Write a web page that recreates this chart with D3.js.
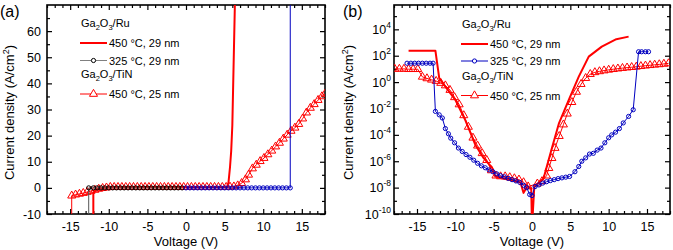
<!DOCTYPE html>
<html>
<head>
<meta charset="utf-8">
<script src="https://cdn.jsdelivr.net/npm/d3@7"></script>
<style>
body { margin: 0; background: #fff; }
text { font-family: "Liberation Sans", Arial, sans-serif; fill: #000; }
</style>
</head>
<body>
<script>
// DATA - panel (a), linear J-V
var ru450A = [[-12.0, -80], [-12.0, -2.0], [-11.7, -0.9], [-11.3, -0.3], [-10.5, 0.1], [-5, 0.2], [0, 0.2],
  [5.3, 0.3], [5.5, 2], [5.7, 8], [5.85, 14], [6.0, 24], [6.4, 80]];

var ru325negA = [[-12.6, -80], [-12.6, 0], [-12.0, 0], [-11.5, 0], [-11.0, 0], [-10.5, 0], [-10.0, 0], [-9.5, 0],
  [-9.0, 0], [-8.5, 0], [-8.0, 0], [-7.5, 0], [-7.0, 0], [-6.5, 0], [-6.0, 0], [-5.5, 0], [-5.0, 0],
  [-4.5, 0], [-4.0, 0], [-3.5, 0], [-3.0, 0], [-2.5, 0], [-2.0, 0], [-1.5, 0], [-1.0, 0], [-0.5, 0]];

var ru325posA = [[0, 0], [0.5, 0], [1.0, 0], [1.5, 0], [2.0, 0], [2.5, 0], [3.0, 0], [3.5, 0], [4.0, 0], [4.5, 0],
  [5.0, 0], [5.5, 0], [6.0, 0], [6.5, 0], [7.0, 0], [7.5, 0], [8.0, 0], [8.5, 0], [9.0, 0], [9.5, 0],
  [10.0, 0], [10.5, 0], [11.0, 0], [11.5, 0], [12.0, 0], [12.5, 0], [13.0, 0], [13.5, 0], [13.5, 90]];

var tin450A = [[-14.8, -80], [-14.8, -3.0], [-14.3, -2.6], [-13.8, -2.3], [-13.3, -2.0], [-12.8, -1.6], [-12.3, -1.2],
  [-11.8, -0.8], [-11.3, -0.4], [-10.8, -0.1], [-10.3, 0.1], [-9.8, 0.3], [-9.3, 0.3], [-8.8, 0.3], [-8.3, 0.3],
  [-7.8, 0.3], [-7.3, 0.3], [-6.8, 0.3], [-6.3, 0.3], [-5.8, 0.3], [-5.3, 0.3], [-4.8, 0.3], [-4.3, 0.3],
  [-3.8, 0.3], [-3.3, 0.3], [-2.8, 0.3], [-2.3, 0.3], [-1.8, 0.3], [-1.3, 0.3], [-0.8, 0.3], [-0.3, 0.3],
  [0.2, 0.3], [0.7, 0.3], [1.2, 0.3], [1.7, 0.3], [2.2, 0.3], [2.7, 0.3], [3.2, 0.3], [3.7, 0.3], [4.2, 0.3],
  [4.7, 0.3], [5.2, 0.3], [5.7, 0.4], [6.2, 0.5], [6.7, 0.9], [7.2, 1.8], [7.7, 3.2], [8.1, 5.0], [8.6, 7.4],
  [9.1, 8.8], [9.6, 10.2], [10.1, 11.4], [10.6, 12.8], [11.1, 14.2], [11.6, 15.8], [12.1, 17.2], [12.6, 18.8],
  [13.1, 20.3], [13.6, 21.8], [14.1, 23.0], [14.6, 24.4], [15.1, 26.5], [15.6, 28.8], [16.1, 30.6],
  [16.6, 32.0], [17.1, 33.6], [17.6, 35.0], [18.0, 36.0]];

// DATA - panel (b), log |J|-V
var ru450B = [[-16.1, 2.4e2], [-12.6, 2.4e2], [-12.1, 2.0], [-11.3, 4.6e-1], [-10.0, 4.5e-2], [-8.7, 1.3e-3],
  [-7.4, 1.8e-5], [-6.3, 1.7e-6], [-5.2, 3.2e-7], [-4.8, 7e-8], [-3.0, 4e-8], [-1.5, 2.5e-8], [-1.1, 4e-9],
  [-0.6, 1.3e-8], [-0.1, 8e-9], [0.0, 1e-11], [0.3, 1.2e-8], [1.5, 5e-8], [2.6, 1e-5], [3.5, 7e-4],
  [4.8, 4.5e-2], [6.1, 2.6], [7.4, 8.5e1], [9.1, 4.9e2], [11.0, 1.8e3], [12.6, 2.8e3]];

var ru325B = [[-16.3, 27], [-15.8, 27], [-15.3, 27], [-14.8, 27], [-14.3, 27], [-13.8, 27], [-13.3, 27], [-12.9, 27],
  [-12.6, 6e-3], [-12.1, 3.3e-3], [-11.7, 1.9e-3], [-11.3, 3e-4], [-10.9, 1.2e-4], [-10.6, 5.6e-5],
  [-10.1, 2.5e-5], [-9.6, 1e-5], [-9.1, 5.5e-6], [-8.6, 3.2e-6], [-8.1, 2e-6], [-7.6, 1.2e-6], [-7.1, 7e-7],
  [-6.6, 4.5e-7], [-6.1, 3.2e-7], [-5.6, 2.2e-7], [-5.1, 1.6e-7], [-4.6, 1.1e-7], [-4.1, 8e-8], [-3.6, 6.5e-8],
  [-3.1, 5e-8], [-2.6, 4e-8], [-2.1, 3.2e-8], [-1.6, 2.5e-8], [-1.1, 1.5e-8], [-0.7, 1e-8], [-0.3, 3e-9],
  [0.0, 2.5e-9], [0.4, 1.2e-8], [0.9, 1.6e-8], [1.4, 2.2e-8], [1.9, 2.8e-8], [2.4, 3.4e-8], [2.9, 4e-8],
  [3.4, 4.8e-8], [3.9, 5.5e-8], [4.4, 6.2e-8], [4.9, 7e-8], [5.6, 1.6e-7], [6.1, 4e-7], [6.5, 1e-6],
  [7.0, 1.8e-6], [7.5, 3.5e-6], [8.0, 4e-6], [8.5, 7e-6], [9.0, 1e-5], [9.5, 2.5e-5], [10.0, 6e-5],
  [10.4, 1e-4], [10.9, 1.6e-4], [11.4, 3e-4], [11.9, 8e-4], [12.6, 2.5e-3], [13.2, 8e-3],
  [13.9, 2e2], [14.3, 2e2], [14.8, 2e2], [15.2, 2e2]];

var tin450B = [[-17.9, 10], [-17.3, 10], [-16.7, 10], [-16.1, 9.5], [-15.5, 9.5], [-14.9, 9.5], [-14.3, 2.5],
  [-13.7, 1.9], [-13.1, 1.5], [-12.5, 1.2], [-11.9, 0.85], [-11.3, 0.55], [-10.7, 0.25], [-10.1, 0.07],
  [-9.5, 0.02], [-8.9, 3e-3], [-8.3, 4e-4], [-7.7, 6e-5], [-7.1, 1.5e-5], [-6.5, 4e-6], [-5.9, 1.2e-6],
  [-5.3, 2e-7], [-4.7, 8e-8], [-4.1, 7e-8], [-3.5, 7e-8], [-2.9, 6e-8], [-2.3, 5e-8], [-1.7, 4e-8],
  [-1.1, 2.5e-8], [-0.5, 1.2e-8], [0.7, 2e-8], [1.3, 3e-8], [1.9, 8e-8], [2.2, 3e-7], [2.6, 1.7e-6],
  [3.0, 1e-5], [3.55, 8e-5], [4.1, 6e-4], [4.6, 4e-3], [5.2, 3e-2], [5.8, 1.8e-1], [6.4, 7e-1], [7.0, 2],
  [7.6, 4], [8.2, 5.5], [8.8, 6.5], [9.4, 7.5], [10.0, 8.5], [10.6, 9.5], [11.2, 10.5], [11.8, 11.5],
  [12.4, 12.5], [13.0, 13.5], [13.6, 14.5], [14.2, 16], [14.8, 17.5], [15.4, 19], [16.0, 20.5],
  [16.6, 22], [17.2, 24], [17.8, 26]];

var xMajor = [-15, -10, -5, 0, 5, 10, 15];
var yMajorA = [-10, 0, 10, 20, 30, 40, 50, 60];
var yMajorB = [1e-10, 1e-8, 1e-6, 1e-4, 1e-2, 1e0, 1e2, 1e4];

var RED = "#ff0000";
var BLUE = "#0000c0";

// SVG WRAPPER
var svg = d3.select("body").append("svg")
  .attr("width", 673)
  .attr("height", 250);

var defs = svg.append("defs");

function gaText(sel, suffix) {
  sel.append("tspan").text("Ga");
  sel.append("tspan").attr("dy", 3).attr("font-size", "7.5px").text("2");
  sel.append("tspan").attr("dy", -3).text("O");
  sel.append("tspan").attr("dy", 3).attr("font-size", "7.5px").text("3");
  sel.append("tspan").attr("dy", -3).text("/" + suffix);
}

function frame(x, y, id, logY) {
  var g = svg.append("g");
  var x0 = x.range()[0], x1 = x.range()[1], y0 = y.range()[0], y1 = y.range()[1];
  var xMinor = d3.range(-18, 19, 1).filter(function (d) { return d % 5 !== 0; });

  g.append("g").attr("transform", "translate(0," + y0 + ")")
    .call(d3.axisBottom(x).tickValues(xMajor).tickSize(-5).tickPadding(8).tickFormat(function (d) { return String(d); }))
    .call(function (a) { a.select(".domain").remove(); a.selectAll("text").attr("font-size", "12.5px"); });
  g.append("g").attr("transform", "translate(0," + y0 + ")")
    .call(d3.axisBottom(x).tickValues(xMinor).tickSize(-3).tickFormat(""))
    .call(function (a) { a.select(".domain").remove(); });
  g.append("g").attr("transform", "translate(0," + y1 + ")")
    .call(d3.axisTop(x).tickValues(xMajor).tickSize(-5).tickFormat(""))
    .call(function (a) { a.select(".domain").remove(); });
  g.append("g").attr("transform", "translate(0," + y1 + ")")
    .call(d3.axisTop(x).tickValues(xMinor).tickSize(-3).tickFormat(""))
    .call(function (a) { a.select(".domain").remove(); });

  var yMajor, yMinor;
  if (logY) {
    yMajor = yMajorB;
    yMinor = [1e-9, 1e-7, 1e-5, 1e-3, 1e-1, 1e1, 1e3, 1e5];
  } else {
    yMajor = yMajorA;
    yMinor = [-5, 5, 15, 25, 35, 45, 55, 65];
  }
  var left = g.append("g").attr("transform", "translate(" + x0 + ",0)")
    .call(d3.axisLeft(y).tickValues(yMajor).tickSize(-5).tickPadding(logY ? 3 : 6)
      .tickFormat(logY ? "" : function (d) { return String(d); }))
    .call(function (a) { a.select(".domain").remove(); a.selectAll("text").attr("font-size", "12.5px"); });
  if (logY) {
    left.selectAll(".tick text").each(function (d) {
      var t = d3.select(this).attr("font-size", "12.5px");
      t.append("tspan").text("10");
      t.append("tspan").attr("dy", -6).attr("font-size", "8.5px").text(String(Math.round(Math.log10(d))));
    });
  }
  g.append("g").attr("transform", "translate(" + x0 + ",0)")
    .call(d3.axisLeft(y).tickValues(yMinor).tickSize(-3).tickFormat(""))
    .call(function (a) { a.select(".domain").remove(); });
  g.append("g").attr("transform", "translate(" + x1 + ",0)")
    .call(d3.axisRight(y).tickValues(yMajor).tickSize(-5).tickFormat(""))
    .call(function (a) { a.select(".domain").remove(); });
  g.append("g").attr("transform", "translate(" + x1 + ",0)")
    .call(d3.axisRight(y).tickValues(yMinor).tickSize(-3).tickFormat(""))
    .call(function (a) { a.select(".domain").remove(); });

  g.selectAll(".tick line").attr("stroke", "#000").attr("stroke-width", 1.2);

  g.append("rect")
    .attr("x", x0).attr("y", y1).attr("width", x1 - x0).attr("height", y0 - y1)
    .attr("fill", "none").attr("stroke", "#000").attr("stroke-width", 1.6);

  defs.append("clipPath").attr("id", id)
    .append("rect").attr("x", x0).attr("y", y1).attr("width", x1 - x0).attr("height", y0 - y1);

  // axis titles
  svg.append("text")
    .attr("x", (x0 + x1) / 2).attr("y", 246)
    .attr("text-anchor", "middle").attr("font-size", "13px")
    .text("Voltage (V)");
  var yt = svg.append("text")
    .attr("transform", "translate(" + (x0 - (logY ? 41 : 33)) + "," + ((y0 + y1) / 2 + 3) + ") rotate(-90)")
    .attr("text-anchor", "middle").attr("font-size", "13px");
  yt.append("tspan").text("Current density (A/cm");
  yt.append("tspan").attr("dy", -5).attr("font-size", "9px").text("2");
  yt.append("tspan").attr("dy", 5).text(")");
}

function plotSeries(x, y, id, data, opts) {
  var g = svg.append("g").attr("clip-path", "url(#" + id + ")");
  var line = d3.line().x(function (d) { return x(d[0]); }).y(function (d) { return y(d[1]); });
  g.append("path").datum(data)
    .attr("d", line)
    .attr("fill", "none")
    .attr("stroke", opts.lineColor)
    .attr("stroke-width", opts.width)
    .attr("stroke-linejoin", "round");
  if (opts.marker === "circle") {
    g.selectAll("circle").data(data.filter(function (d) { return opts.markAll || d[1] > -50 && d[1] < 80; }))
      .enter().append("circle")
      .attr("cx", function (d) { return x(d[0]); })
      .attr("cy", function (d) { return y(d[1]); })
      .attr("r", 2.1)
      .attr("fill", "none")
      .attr("stroke", opts.markColor)
      .attr("stroke-width", 1);
  } else if (opts.marker === "triangle") {
    var sym = d3.symbol(d3.symbolTriangle, 28);
    g.selectAll(".tri").data(data.filter(function (d) { return opts.markAll || d[1] > -50 && d[1] < 80; }))
      .enter().append("path")
      .attr("class", "tri")
      .attr("d", sym)
      .attr("transform", function (d) { return "translate(" + x(d[0]) + "," + y(d[1]) + ")"; })
      .attr("fill", "none")
      .attr("stroke", opts.markColor)
      .attr("stroke-width", 1);
  }
}

function legend(lx, rows, panelB) {
  var g = svg.append("g").attr("font-size", "11px");
  g.append("text").attr("x", lx + 1).attr("y", rows[0]).attr("font-size", "11px").call(gaText, "Ru");
  var items = [
    {y: rows[1], color: RED, w: 2, marker: null, label: "450 \u00B0C, 29 nm"},
    {y: rows[2], color: panelB ? BLUE : "#808080", w: 1, marker: "circle", mc: panelB ? BLUE : "#000", label: "325 \u00B0C, 29 nm"},
    {y: rows[4], color: RED, w: 1, marker: "triangle", mc: RED, label: "450 \u00B0C, 25 nm"}
  ];
  g.append("text").attr("x", lx + 1).attr("y", rows[3]).attr("font-size", "11px").call(gaText, "TiN");
  items.forEach(function (it) {
    g.append("line").attr("x1", lx).attr("x2", lx + 27).attr("y1", it.y - 4).attr("y2", it.y - 4)
      .attr("stroke", it.color).attr("stroke-width", it.w);
    if (it.marker === "circle") {
      g.append("circle").attr("cx", lx + 13.5).attr("cy", it.y - 4).attr("r", 2.1)
        .attr("fill", "#fff").attr("stroke", it.mc).attr("stroke-width", 1);
    } else if (it.marker === "triangle") {
      g.append("path").attr("d", d3.symbol(d3.symbolTriangle, 28))
        .attr("transform", "translate(" + (lx + 13.5) + "," + (it.y - 4) + ")")
        .attr("fill", "#fff").attr("stroke", it.mc).attr("stroke-width", 1);
    }
    g.append("text").attr("x", lx + 29).attr("y", it.y).text(it.label);
  });
}

// PANEL (a)
var xA = d3.scaleLinear().domain([-18, 18]).range([47, 325]);
var yA = d3.scaleLinear().domain([-10, 70]).range([214, 5]);
frame(xA, yA, "clipA", false);
plotSeries(xA, yA, "clipA", ru450A, {lineColor: RED, width: 2});
plotSeries(xA, yA, "clipA", tin450A, {lineColor: RED, width: 1, marker: "triangle", markColor: RED});
plotSeries(xA, yA, "clipA", ru325negA, {lineColor: "#555", width: 1, marker: "circle", markColor: "#000"});
plotSeries(xA, yA, "clipA", ru325posA, {lineColor: BLUE, width: 1, marker: "circle", markColor: BLUE});
legend(80, [27, 47, 64.5, 78, 98], false);

// PANEL (b)
var xB = d3.scaleLinear().domain([-18, 18]).range([394, 670]);
var yB = d3.scaleLog().domain([1e-10, 7e5]).range([214, 5]);
frame(xB, yB, "clipB", true);
plotSeries(xB, yB, "clipB", ru450B, {lineColor: RED, width: 2});
plotSeries(xB, yB, "clipB", tin450B, {lineColor: RED, width: 1, marker: "triangle", markColor: RED, markAll: true});
plotSeries(xB, yB, "clipB", ru325B, {lineColor: BLUE, width: 1, marker: "circle", markColor: BLUE, markAll: true});
legend(461, [28, 48, 65, 80, 99.5], true);

// PANEL LABELS
svg.append("text").attr("x", 0).attr("y", 17).attr("font-size", "16px").text("(a)");
svg.append("text").attr("x", 343).attr("y", 17).attr("font-size", "16px").text("(b)");
</script>
</body>
</html>
